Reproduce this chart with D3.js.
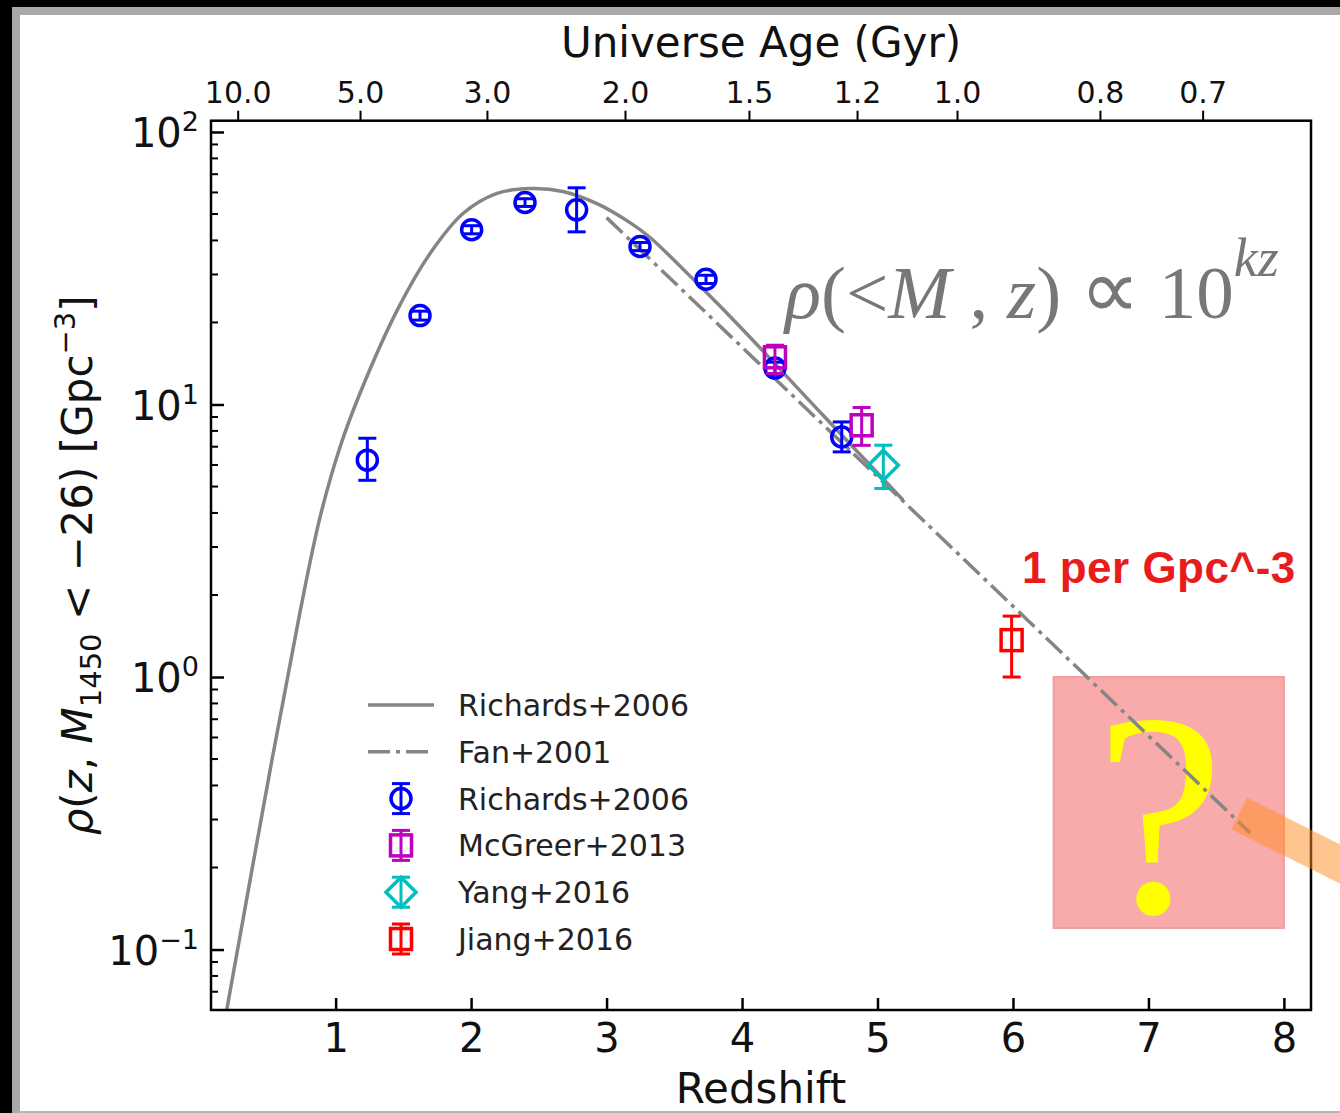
<!DOCTYPE html>
<html>
<head>
<meta charset="utf-8">
<script src="https://cdn.jsdelivr.net/npm/d3@7"></script>
<style>
  body { margin: 0; background: #ffffff; }
  svg { display: block; }
</style>
</head>
<body>
<svg id="chart" width="1340" height="1113"></svg>
<script>
// ---- Richards+2006 model curve: redshift and space density (Gpc^-3)
const modelZ   = [0.196, 0.530, 0.737, 0.885, 1.032, 1.180, 1.453, 1.697, 1.940, 2.191, 2.435, 2.678, 2.929, 3.173, 3.321, 3.690, 3.985, 4.598, 5.188];
const modelRho = [0.060, 0.496, 1.73, 3.86, 6.97, 11.0, 22.1, 35.8, 50.2, 59.5, 62.0, 60.5, 54.6, 46.5, 41.0, 27.2, 19.3, 9.13, 4.46];

// ---- Fan+2001 exponential decline (straight in log space)
const fanZ   = [3.0, 7.75];
const fanRho = [48.5, 0.268];

// ---- Binned measurements: centre, lower and upper bound
const richZ   = [1.234, 1.623, 2.004, 2.398, 2.779, 3.247, 3.734, 4.243, 4.736];
const richRho = [6.25, 21.2, 43.8, 55.1, 51.8, 38.0, 28.8, 13.6, 7.6];
const richLo  = [5.27, 20.4, 42.3, 53.3, 43.0, 36.7, 27.8, 12.9, 6.70];
const richHi  = [7.52, 22.0, 45.3, 56.9, 62.4, 39.3, 29.8, 14.3, 8.63];

const mcgZ   = [4.243, 4.883];
const mcgRho = [14.9, 8.39];
const mcgLo  = [13.0, 7.08];
const mcgHi  = [16.5, 9.75];

const yangZ   = [5.043];
const yangRho = [5.99];
const yangLo  = [4.92];
const yangHi  = [7.09];

const jiangZ   = [5.99];
const jiangRho = [1.366];
const jiangLo  = [1.00];
const jiangHi  = [1.673];

// ---- Unexplored region (z, density bounds)
const boxZ   = [6.3, 8.0];
const boxRho = [0.12, 1.0];

// ---- Axis ticks
const xTicks = [1, 2, 3, 4, 5, 6, 7, 8];
const yTicks = [0.1, 1, 10, 100];
const yTickExp = ["\u22121", "0", "1", "2"];
const ageLabels = ["10.0", "5.0", "3.0", "2.0", "1.5", "1.2", "1.0", "0.8", "0.7"];
const ageZ      = [0.277, 1.180, 2.117, 3.136, 4.051, 4.849, 5.587, 6.642, 7.400];

// ---- Legend entries
const legendLabels = ["Richards+2006", "Fan+2001", "Richards+2006", "McGreer+2013", "Yang+2016", "Jiang+2016"];

const FONT = "'DejaVu Sans', sans-serif";
const GRAY = "#858585";
const svg = d3.select("#chart");

// page frame
svg.append("rect").attr("x", 0).attr("y", 0).attr("width", 1340).attr("height", 1113).attr("fill", "#ffffff");
svg.append("rect").attr("x", 0).attr("y", 0).attr("width", 1340).attr("height", 7).attr("fill", "#000");
svg.append("rect").attr("x", 0).attr("y", 0).attr("width", 12).attr("height", 1113).attr("fill", "#000");
svg.append("rect").attr("x", 12).attr("y", 7).attr("width", 1328).attr("height", 8).attr("fill", "#a9a9a9");
svg.append("rect").attr("x", 12).attr("y", 7).attr("width", 8).attr("height", 1106).attr("fill", "#a9a9a9");
svg.append("rect").attr("x", 20).attr("y", 1111).attr("width", 1320).attr("height", 2).attr("fill", "#b5b5b5");

// plot area
const L = 211, R = 1311, T = 120.7, B = 1010;
const x = d3.scaleLinear().domain([0.08, 8.2]).range([L, R]);
const y = d3.scaleLog().domain([0.06, 110]).range([B, T]);

svg.append("defs").append("clipPath").attr("id", "plotclip")
  .append("rect").attr("x", L).attr("y", T).attr("width", R - L).attr("height", B - T);

// highlighted region with question mark
svg.append("rect")
  .attr("x", x(boxZ[0])).attr("y", y(boxRho[1]))
  .attr("width", x(boxZ[1]) - x(boxZ[0])).attr("height", y(boxRho[0]) - y(boxRho[1]))
  .attr("fill", "#f9aaaa").attr("stroke", "#f49c9c").attr("stroke-width", 2);
svg.append("text")
  .attr("x", (x(boxZ[0]) + x(boxZ[1])) / 2 - 9).attr("y", y(boxRho[0]) - 16)
  .attr("text-anchor", "middle")
  .attr("font-family", "'Liberation Serif', serif").attr("font-size", 290)
  .attr("fill", "#ffff00").text("?");

const plot = svg.append("g").attr("clip-path", "url(#plotclip)");

// model curves
plot.append("path")
  .datum(modelZ.map((z, i) => [z, modelRho[i]]))
  .attr("d", d3.line().x(d => x(d[0])).y(d => y(d[1])).curve(d3.curveCatmullRom.alpha(0.5)))
  .attr("fill", "none").attr("stroke", GRAY).attr("stroke-width", 3.5);

plot.append("path")
  .datum(fanZ.map((z, i) => [z, fanRho[i]]))
  .attr("d", d3.line().x(d => x(d[0])).y(d => y(d[1])))
  .attr("fill", "none").attr("stroke", GRAY).attr("stroke-width", 3.5)
  .attr("stroke-dasharray", "22,6,4,6");

// error bars + open markers
function drawMarker(g, shape, cx, cy, color) {
  if (shape === "circle") {
    g.append("circle").attr("cx", cx).attr("cy", cy).attr("r", 10)
      .attr("fill", "none").attr("stroke", color).attr("stroke-width", 3.5);
  } else if (shape === "square") {
    g.append("rect").attr("x", cx - 10.5).attr("y", cy - 10.5).attr("width", 21).attr("height", 21)
      .attr("fill", "none").attr("stroke", color).attr("stroke-width", 3.5);
  } else {
    g.append("path").attr("d", `M${cx},${cy - 15}L${cx + 15},${cy}L${cx},${cy + 15}L${cx - 15},${cy}Z`)
      .attr("fill", "none").attr("stroke", color).attr("stroke-width", 3.5);
  }
}
function drawErr(g, cx, y1, y2, color) {
  g.append("line").attr("x1", cx).attr("x2", cx).attr("y1", y1).attr("y2", y2)
    .attr("stroke", color).attr("stroke-width", 3);
  [y1, y2].forEach(yy => g.append("line").attr("x1", cx - 9).attr("x2", cx + 9)
    .attr("y1", yy).attr("y2", yy).attr("stroke", color).attr("stroke-width", 3));
}
function series(zs, rhos, lo, hi, color, shape) {
  const g = svg.append("g");
  zs.forEach((z, i) => {
    drawErr(g, x(z), y(hi[i]), y(lo[i]), color);
    drawMarker(g, shape, x(z), y(rhos[i]), color);
  });
}
series(richZ, richRho, richLo, richHi, "#0000ff", "circle");
series(mcgZ, mcgRho, mcgLo, mcgHi, "#bf00bf", "square");
series(yangZ, yangRho, yangLo, yangHi, "#00bfbf", "diamond");
series(jiangZ, jiangRho, jiangLo, jiangHi, "#ff0000", "square");

// axes
const axG = svg.append("g").attr("font-family", FONT);

const xAxis = axG.append("g").attr("transform", `translate(0,${B})`)
  .call(d3.axisBottom(x).tickValues(xTicks).tickFormat(d3.format("d"))
    .tickSizeInner(-12).tickSizeOuter(0).tickPadding(14));
xAxis.select(".domain").remove();
xAxis.selectAll(".tick line").attr("stroke", "#000").attr("stroke-width", 2.5);
xAxis.selectAll(".tick text").attr("font-size", 40).attr("font-family", FONT).attr("fill", "#111")
  .attr("dy", "0.71em");

const topAxis = axG.append("g").attr("transform", `translate(0,${T})`)
  .call(d3.axisTop(x).tickValues(ageZ).tickFormat((d, i) => ageLabels[i])
    .tickSizeInner(10).tickSizeOuter(0).tickPadding(8));
topAxis.select(".domain").remove();
topAxis.selectAll(".tick line").attr("stroke", "#000").attr("stroke-width", 2);
topAxis.selectAll(".tick text").attr("font-size", 30).attr("font-family", FONT).attr("fill", "#111");

// left axis: major + minor ticks, labels as powers of ten
const yAxis = axG.append("g").attr("transform", `translate(${L},0)`)
  .call(d3.axisLeft(y).tickValues(yTicks).tickFormat("").tickSizeInner(-13).tickSizeOuter(0));
yAxis.select(".domain").remove();
yAxis.selectAll(".tick line").attr("stroke", "#000").attr("stroke-width", 2.5);
const minor = y.ticks().filter(v => !yTicks.some(t => Math.abs(t - v) < 1e-9));
yAxis.selectAll("line.minor").data(minor).enter().append("line").attr("class", "minor")
  .attr("x1", 0).attr("x2", 7).attr("y1", d => y(d)).attr("y2", d => y(d))
  .attr("stroke", "#000").attr("stroke-width", 2);
yTicks.forEach((t, i) => {
  const tx = axG.append("text").attr("x", L - 12).attr("y", y(t) + 15)
    .attr("text-anchor", "end").attr("font-size", 40).attr("fill", "#111");
  tx.append("tspan").text("10");
  tx.append("tspan").attr("font-size", 27).attr("dy", -16).text(yTickExp[i]);
});

// frame of the axes
axG.append("rect").attr("x", L).attr("y", T).attr("width", R - L).attr("height", B - T)
  .attr("fill", "none").attr("stroke", "#000").attr("stroke-width", 2.5);

// axis titles
axG.append("text").attr("x", (L + R) / 2).attr("y", 57).attr("text-anchor", "middle")
  .attr("font-size", 42).attr("fill", "#111").text("Universe Age (Gyr)");
axG.append("text").attr("x", (L + R) / 2).attr("y", 1103).attr("text-anchor", "middle")
  .attr("font-size", 42).attr("fill", "#111").text("Redshift");

const yl = axG.append("text").attr("transform", `translate(92,${(T + B) / 2}) rotate(-90)`)
  .attr("text-anchor", "middle").attr("font-size", 42).attr("fill", "#111");
yl.append("tspan").attr("font-style", "italic").text("\u03c1");
yl.append("tspan").text("(");
yl.append("tspan").attr("font-style", "italic").text("z");
yl.append("tspan").text(", ");
yl.append("tspan").attr("font-style", "italic").text("M");
yl.append("tspan").attr("font-size", 29).attr("dy", 9).text("1450");
yl.append("tspan").attr("dy", -9).text(" < \u221226) [Gpc");
yl.append("tspan").attr("font-size", 29).attr("dy", -17).text("\u22123");
yl.append("tspan").attr("dy", 17).text("]");

// scaling-law annotation
const f = svg.append("text").attr("x", 785).attr("y", 318)
  .attr("font-family", "'Liberation Serif', serif").attr("font-size", 75).attr("fill", "#777777");
f.append("tspan").attr("font-style", "italic").text("\u03c1");
f.append("tspan").text("(<");
f.append("tspan").attr("font-style", "italic").text("M");
f.append("tspan").text(" , ");
f.append("tspan").attr("font-style", "italic").text("z");
f.append("tspan").text(") ");
f.append("tspan").attr("font-size", 84).text("\u221d");
f.append("tspan").text(" 10");
f.append("tspan").attr("font-style", "italic").attr("font-size", 54).attr("dy", -42).text("kz");

svg.append("text").attr("x", 1022).attr("y", 583)
  .attr("font-family", "'Liberation Sans', Arial, sans-serif").attr("font-weight", "bold")
  .attr("font-size", 44).attr("letter-spacing", 0.5).attr("fill", "#e81c1c").text("1 per Gpc^-3");

// legend
const lg = svg.append("g").attr("font-family", FONT);
const rowY = i => 705 + i * 46.8;
lg.append("line").attr("x1", 368).attr("x2", 434).attr("y1", rowY(0)).attr("y2", rowY(0))
  .attr("stroke", GRAY).attr("stroke-width", 3.5);
lg.append("line").attr("x1", 368).attr("x2", 434).attr("y1", rowY(1)).attr("y2", rowY(1))
  .attr("stroke", GRAY).attr("stroke-width", 3.5).attr("stroke-dasharray", "22,6,4,6");
const legMarks = [["#0000ff", "circle"], ["#bf00bf", "square"], ["#00bfbf", "diamond"], ["#ff0000", "square"]];
legMarks.forEach((m, k) => {
  const cy = rowY(k + 2);
  drawErr(lg, 401, cy - 15, cy + 15, m[0]);
  drawMarker(lg, m[1], 401, cy, m[0]);
});
legendLabels.forEach((t, i) => {
  lg.append("text").attr("x", 458).attr("y", rowY(i) + 11).attr("font-size", 30)
    .attr("fill", "#222").text(t);
});

// pointer bar from the end of the extrapolated decline
const fx = x(fanZ[1]), fy = y(fanRho[1]);
svg.append("rect").attr("x", 0).attr("y", 0).attr("width", 170).attr("height", 35)
  .attr("transform", `translate(${fx - 3},${fy - 35}) rotate(26.6)`)
  .attr("fill", "rgba(255,140,30,0.5)");
</script>
</body>
</html>
